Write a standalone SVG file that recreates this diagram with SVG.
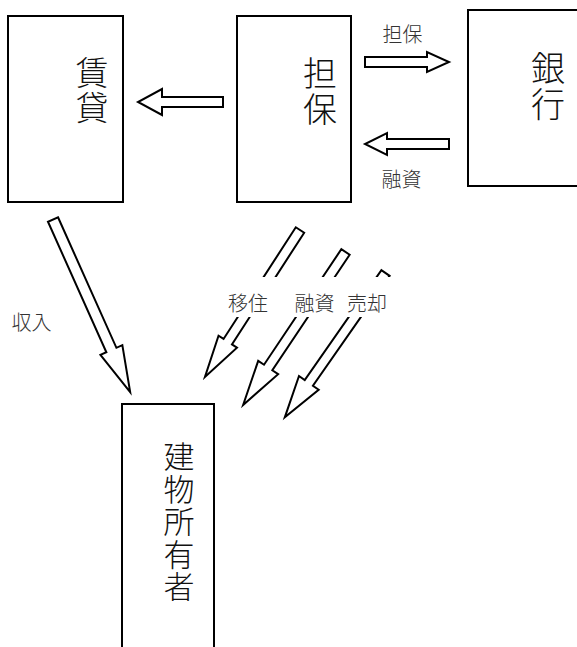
<svg xmlns="http://www.w3.org/2000/svg" width="577" height="647" viewBox="0 0 577 647">
<style>
.box{fill:#fff;stroke:#000;stroke-width:2}
.arr{fill:#fff;stroke:#000;stroke-width:2;stroke-linejoin:miter}
.big{font-family:"Noto Sans CJK JP","Noto Sans CJK SC",sans-serif;font-weight:300;fill:#111;writing-mode:vertical-rl;text-orientation:upright}
.lbl{font-family:"Noto Sans CJK JP","Noto Sans CJK SC",sans-serif;font-weight:300;font-size:20px;fill:#333;text-anchor:middle}
</style>
<rect width="577" height="647" fill="#fff"/>
<g id="node-chintai">
<rect class="box" x="8" y="16" width="115" height="186"/>
<text class="big" x="92" y="55.5" font-size="33" letter-spacing="2">賃貸</text>
</g>
<g id="node-tanpo">
<rect class="box" x="237" y="16" width="114" height="186"/>
<text class="big" x="320" y="56" font-size="34" letter-spacing="2">担保</text>
</g>
<g id="node-ginko">
<rect class="box" x="468" y="10" width="130" height="176"/>
<text class="big" x="548" y="51" font-size="34" letter-spacing="2">銀行</text>
</g>
<g id="node-owner">
<rect class="box" x="122" y="404" width="92" height="270"/>
<text class="big" x="179" y="441" font-size="31" letter-spacing="1.5">建物所有者</text>
</g>
<g id="connectors">
<polygon class="arr" points="223,97 162,97 162,89 138,102 162,115 162,107 223,107"/>
<polygon class="arr" points="365,57 427,57 427,52 449,62 427,72 427,67 365,67"/>
<polygon class="arr" points="449,139 387,139 387,133 365,144 387,155 387,149 449,149"/>
<polygon class="arr" transform="translate(53,219.5) rotate(65.9)" points="0,-5.5 143,-5.5 143,-12 189,0 143,12 143,5.5 0,5.5"/>
<polygon class="arr" transform="translate(300,230) rotate(122.9)" points="0,-5 133,-5 133,-11 175,0 133,11 133,5 0,5"/>
<polygon class="arr" transform="translate(345.5,252) rotate(123.8)" points="0,-5 139,-5 139,-12 184,0 139,12 139,5 0,5"/>
<polygon class="arr" transform="translate(385.5,273) rotate(124.9)" points="0,-5 134,-5 134,-12 176,0 134,12 134,5 0,5"/>
<rect x="205" y="277" width="195" height="40" fill="#fff"/>
<text class="lbl" x="402.5" y="42">担保</text>
<text class="lbl" x="401.5" y="187">融資</text>
<text class="lbl" x="31.5" y="330" font-size="22">収入</text>
<text class="lbl" x="248" y="311" font-size="19">移住</text>
<text class="lbl" x="314.5" y="311" font-size="19">融資</text>
<text class="lbl" x="367" y="311" font-size="19">売却</text>
</g>
</svg>
